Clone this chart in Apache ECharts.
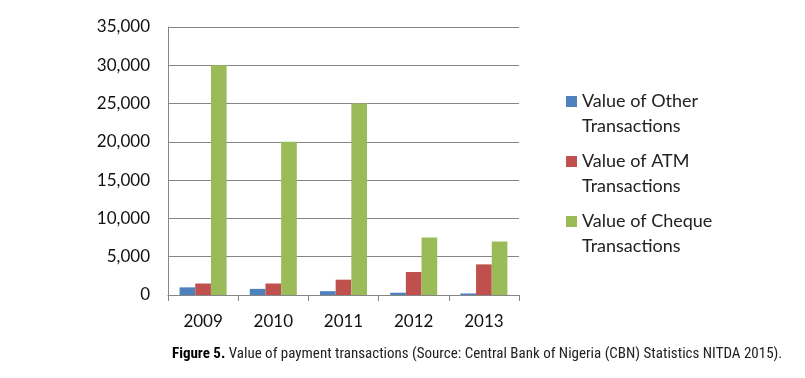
<!DOCTYPE html>
<html><head><meta charset="utf-8">
<script src="https://cdn.jsdelivr.net/npm/echarts@6/dist/echarts.min.js"></script>
<style>html,body{margin:0;padding:0;background:#fff}#c{width:805px;height:378px}</style>
</head><body><div id="c"></div>
<script>
const categories = ['2009','2010','2011','2012','2013'];
const otherValues = [1000, 800, 500, 300, 200];
const atmValues = [1500, 1500, 2000, 3000, 4000];
const chequeValues = [30000, 20000, 25000, 7500, 7000];
const seriesNames = ['Value of Other\nTransactions','Value of ATM\nTransactions','Value of Cheque\nTransactions'];
const colors = ['#4F81BD','#C0504D','#9BBB59'];
const captionBold = 'Figure 5.';
const captionText = ' Value of payment transactions (Source: Central Bank of Nigeria (CBN) Statistics NITDA 2015).';

const chart = echarts.init(document.getElementById('c'), null, {renderer:'canvas'});
const font = 'Lato, Calibri, Carlito, sans-serif';
const icon = 'path://M0,7h11v11h-11z M0,0L0,50';
chart.setOption({
  animation:false,
  grid:{left:168, right:286, top:27, bottom:83},
  legend:{
    left:566, top:89, orient:'vertical', itemGap:10, padding:0,
    itemWidth:11, itemHeight:50, icon:icon,
    textStyle:{fontFamily:font, fontSize:18, color:'#222', lineHeight:25, padding:[0,0,0,0]},
    itemStyle:{borderWidth:0},
    data:seriesNames
  },
  xAxis:{
    type:'category', data:categories,
    axisLine:{lineStyle:{color:'#868686'}},
    axisTick:{show:true, length:6, lineStyle:{color:'#868686'}},
    axisLabel:{fontFamily:font, fontSize:17, color:'#111', margin:18}
  },
  yAxis:{
    type:'value', min:0, max:35000, interval:5000,
    axisLine:{show:true, lineStyle:{color:'#868686'}},
    axisTick:{show:false},
    splitLine:{lineStyle:{color:'#868686'}},
    axisLabel:{fontFamily:font, fontSize:17, color:'#111', margin:18,
      formatter:v=>v.toLocaleString('en-US')}
  },
  series:[
    {name:seriesNames[0], type:'bar', data:otherValues, itemStyle:{color:colors[0]}, barGap:'0%', barCategoryGap:'33%'},
    {name:seriesNames[1], type:'bar', data:atmValues, itemStyle:{color:colors[1]}, barGap:'0%', barCategoryGap:'33%'},
    {name:seriesNames[2], type:'bar', data:chequeValues, itemStyle:{color:colors[2]}, barGap:'0%', barCategoryGap:'33%'}
  ],
  graphic:[{
    type:'text', left:172, top:347,
    style:{
      text:'{b|'+captionBold+'}{n|'+captionText+'}',
      rich:{
        b:{fontFamily:'"Liberation Sans Narrow", "Roboto Condensed", "Noto Sans", sans-serif', fontWeight:'bold', fontSize:15, fill:'#000'},
        n:{fontFamily:'"Liberation Sans Narrow", "Roboto Condensed", "Noto Sans", sans-serif', fontSize:15, fill:'#222'}
      }
    }
  }]
});
</script></body></html>
